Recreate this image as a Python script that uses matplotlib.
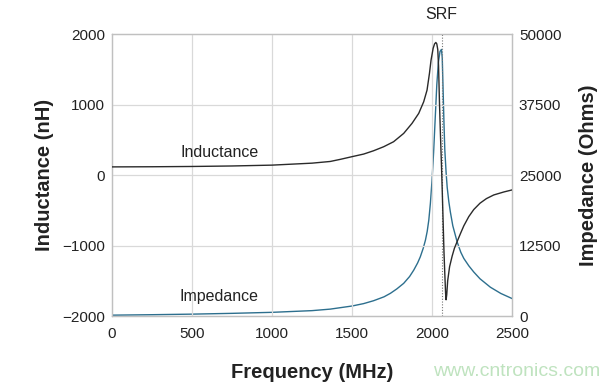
import matplotlib
matplotlib.use("Agg")
import matplotlib.pyplot as plt

plt.rcParams['font.family'] = ['Liberation Sans', 'DejaVu Sans']

# Inductance (nH) vs frequency (MHz)
freq_L = [0, 250, 500, 750, 1000, 1250, 1364, 1427, 1500, 1573, 1635, 1698, 1760,
          1823, 1875, 1917, 1948, 1969, 1984, 1994, 2007, 2016, 2024, 2030, 2036,
          2041, 2047, 2053, 2059, 2065, 2070, 2075, 2080, 2085, 2088, 2092, 2098,
          2110, 2126, 2140, 2157, 2178, 2199, 2230, 2261, 2300, 2340, 2386, 2450, 2500]
inductance = [115, 117, 121, 128, 140, 168, 192, 222, 260, 297, 344, 401, 472,
              590, 732, 874, 1038, 1204, 1440, 1629, 1795, 1860, 1880, 1860, 1780,
              1550, 1000, 560, 150, -300, -700, -1100, -1400, -1680, -1770, -1700, -1500,
              -1300, -1150, -1040, -945, -830, -720, -590, -490, -400, -335, -283, -240, -212]

# Impedance (Ohms) vs frequency (MHz)
freq_Z = [0, 250, 500, 750, 1000, 1250, 1364, 1500, 1573, 1635, 1700, 1740, 1780,
          1823, 1860, 1886, 1910, 1927, 1945, 1959, 1970, 1980, 1990, 2000, 2010,
          2020, 2030, 2040, 2050, 2059, 2064, 2069, 2075, 2080, 2088, 2095, 2105,
          2115, 2130, 2157, 2180, 2199, 2230, 2261, 2300, 2365, 2430, 2500]
impedance = [150, 230, 330, 470, 650, 950, 1220, 1770, 2200, 2710, 3400, 4020, 4800,
             5790, 7000, 8140, 9400, 10500, 12000, 13450, 15000, 17000, 20000, 24000, 29000,
             35000, 41000, 45000, 46900, 47260, 45800, 40500, 34000, 29500, 25500, 22800, 20300,
             18400, 16000, 13150, 11300, 10200, 8900, 7800, 6600, 5100, 4000, 3100]

x_ticks = [0, 500, 1000, 1500, 2000, 2500]
L_ticks = [-2000, -1000, 0, 1000, 2000]
Z_ticks = [0, 12500, 25000, 37500, 50000]
srf_freq = 2060

fig = plt.figure(figsize=(6.16, 3.89), dpi=100)
ax = fig.add_axes([112/616, 1-316/389, 400/616, 282/389])
ax2 = ax.twinx()

grid_c = '#d9d9d9'
spine_c = '#c0c0c0'

ax.set_xlim(0, 2500)
ax.set_ylim(-2000, 2000)
ax2.set_ylim(0, 50000)
ax.set_xticks(x_ticks)
ax.set_yticks(L_ticks)
ax2.set_yticks(Z_ticks)
ax.set_xticklabels([str(v) for v in x_ticks])
ax.set_yticklabels(['\u22122000', '\u22121000', '0', '1000', '2000'])
ax2.set_yticklabels([str(v) for v in Z_ticks])

for v in [500, 1000, 1500, 2000]:
    ax.axvline(v, color=grid_c, lw=0.9, zorder=0)
for v in [-1000, 0, 1000]:
    ax.axhline(v, color=grid_c, lw=0.9, zorder=0)

ax.axvline(srf_freq, color='#777777', lw=0.8, ls=(0, (1, 1.5)), zorder=1)

for a in (ax, ax2):
    for s in a.spines.values():
        s.set_color(spine_c)
        s.set_linewidth(0.9)

ax.tick_params(axis='both', length=0, labelsize=11, colors='#222222')
ax.tick_params(axis='x', pad=8)
ax.tick_params(axis='y', pad=5)
ax2.tick_params(axis='y', length=0, labelsize=11, colors='#222222', pad=5)

ax2.plot(freq_Z, impedance, color='#2d6f8e', lw=1.0, zorder=3)
ax.plot(freq_L, inductance, color='#2a2a2a', lw=1.0, zorder=4)
ax.set_zorder(ax2.get_zorder() + 1)
ax.patch.set_visible(False)

ax.text(670, 321, 'Inductance', fontsize=11.5, ha='center', va='center', color='#222222')
ax.text(670, -1726, 'Impedance', fontsize=11.5, ha='center', va='center', color='#222222')
ax.text(srf_freq, 2000 + 20/70.6*1000, 'SRF', fontsize=11.5, ha='center', va='center',
        color='#222222', clip_on=False)

ax.set_ylabel('Inductance (nH)', fontsize=14.5, fontweight='bold', color='#222222')
ax2.set_ylabel('Impedance (Ohms)', fontsize=14.5, fontweight='bold', color='#222222')
ax.set_xlabel('Frequency (MHz)', fontsize=14.5, fontweight='bold', color='#222222')
ax.yaxis.set_label_coords(-0.1675, 0.5)
ax2.yaxis.set_label_coords(1.19, 0.5)
ax.xaxis.set_label_coords(0.5, -0.199)
for lab in (ax.yaxis.label, ax2.yaxis.label, ax.xaxis.label):
    lab.set_horizontalalignment('center')
    lab.set_verticalalignment('center')

fig.text(433/616, 1-372/389, 'www.cntronics.com', fontsize=14, color='#bfe3bf',
         ha='left', va='center')

fig.savefig('out.png', dpi=100)
